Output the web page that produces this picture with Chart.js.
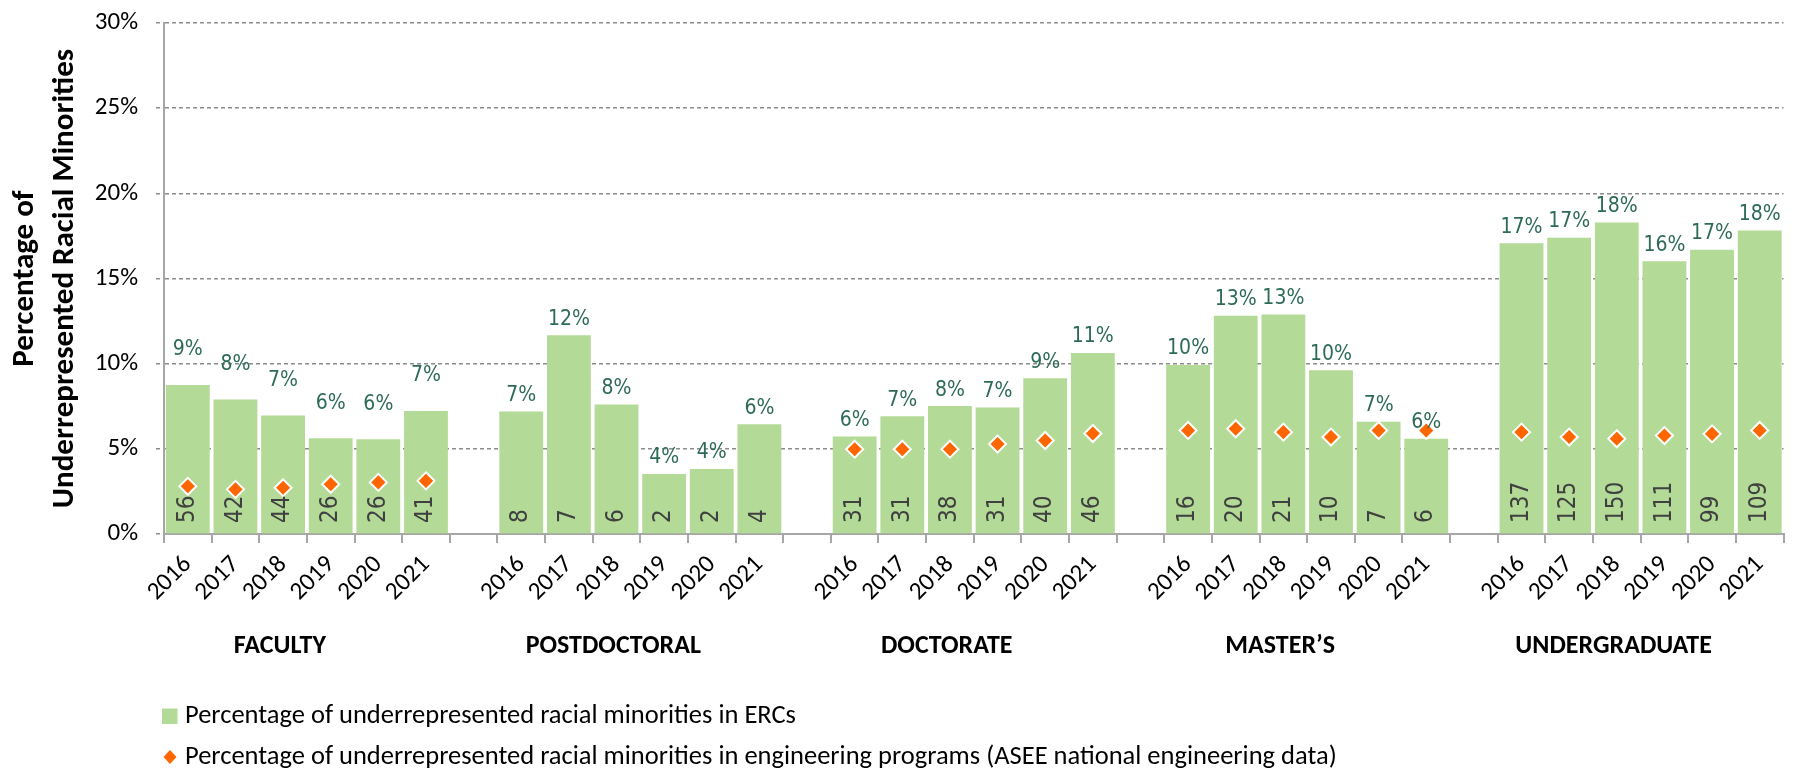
<!DOCTYPE html>
<html><head><meta charset="utf-8">
<script src="https://cdn.jsdelivr.net/npm/chart.js@4.4.1/dist/chart.umd.min.js"></script>
<style>html,body{margin:0;padding:0;background:#fff;}#wrap{position:relative;width:1794px;height:771px;}</style>
</head><body><div id="wrap"><canvas id="c" width="1794" height="771"></canvas></div>
<script>
const years = ['2016', '2017', '2018', '2019', '2020', '2021'];
const groups = ['FACULTY', 'POSTDOCTORAL', 'DOCTORATE', 'MASTER’S', 'UNDERGRADUATE'];
const yTicks = [0, 5, 10, 15, 20, 25, 30];

const ercFaculty = [8.75, 7.90, 6.95, 5.62, 5.56, 7.22];
const ercPostdoc = [7.19, 11.67, 7.61, 3.52, 3.82, 6.45];
const ercDoctorate = [5.73, 6.92, 7.51, 7.43, 9.14, 10.63];
const ercMasters = [9.92, 12.82, 12.88, 9.61, 6.59, 5.59];
const ercUndergrad = [17.07, 17.39, 18.29, 16.02, 16.69, 17.82];

const aseeFaculty = [2.80, 2.62, 2.72, 2.92, 3.03, 3.12];
const aseePostdoc = [null, null, null, null, null, null];
const aseeDoctorate = [4.98, 4.98, 4.98, 5.28, 5.49, 5.90];
const aseeMasters = [6.08, 6.18, 5.98, 5.69, 6.08, 6.08];
const aseeUndergrad = [5.98, 5.69, 5.59, 5.78, 5.88, 6.08];

const countFaculty = [56, 42, 44, 26, 26, 41];
const countPostdoc = [8, 7, 6, 2, 2, 4];
const countDoctorate = [31, 31, 38, 31, 40, 46];
const countMasters = [16, 20, 21, 10, 7, 6];
const countUndergrad = [137, 125, 150, 111, 99, 109];

const legendErc = 'Percentage of underrepresented racial minorities in ERCs';
const legendAsee = 'Percentage of underrepresented racial minorities in engineering programs (ASEE national engineering data)';
const yTitle = ['Percentage of', 'Underrepresented Racial Minorities'];

// ---- build flat arrays with spacer categories between groups ----
const ercGroups = [ercFaculty, ercPostdoc, ercDoctorate, ercMasters, ercUndergrad];
const aseeGroups = [aseeFaculty, aseePostdoc, aseeDoctorate, aseeMasters, aseeUndergrad];
const countGroups = [countFaculty, countPostdoc, countDoctorate, countMasters, countUndergrad];
const labels = [], erc = [], asee = [], counts = [], groupStart = [];
groups.forEach((g, gi) => {
  groupStart.push(labels.length);
  years.forEach((y, i) => {
    labels.push(y); erc.push(ercGroups[gi][i]); asee.push(aseeGroups[gi][i]); counts.push(countGroups[gi][i]);
  });
  if (gi < groups.length - 1) { labels.push(''); erc.push(null); asee.push(null); counts.push(null); }
});

const SANS = 'Carlito, "Open Sans", Lato, sans-serif';
const NARROW = '"Liberation Sans Narrow", "DejaVu Sans Condensed", "Liberation Sans", sans-serif';
Chart.defaults.color = '#000';

const labelPlugin = {
  id: 'customLabels',
  afterDatasetsDraw(chart) {
    const {ctx, chartArea} = chart;
    const meta = chart.getDatasetMeta(1);
    ctx.save();
    meta.data.forEach((bar, i) => {
      const v = erc[i];
      if (v == null) return;
      const gi = groupStart.filter(s => s <= i).length - 1;
      ctx.fillStyle = '#2e6b57';
      ctx.font = '21px ' + NARROW;
      ctx.textAlign = 'center';
      ctx.textBaseline = 'middle';
      ctx.fillText(Math.round(v) + '%', bar.x, bar.y - (gi === 0 ? 35 : 16));
      ctx.save();
      ctx.translate(bar.x, chartArea.bottom - 11);
      ctx.rotate(-Math.PI / 2);
      ctx.textAlign = 'left';
      ctx.fillStyle = '#404040';
      ctx.font = '24px ' + NARROW;
      ctx.fillText(String(counts[i]), 0, 0);
      ctx.restore();
    });
    ctx.restore();
  },
  afterDraw(chart) {
    const {ctx, chartArea, scales: {x}} = chart;
    ctx.save();
    // group labels
    ctx.font = 'bold 26px ' + SANS;
    ctx.fillStyle = '#000';
    ctx.textAlign = 'center';
    ctx.textBaseline = 'middle';
    groups.forEach((g, gi) => {
      const s = groupStart[gi];
      const cx = (x.getPixelForValue(s + 2) + x.getPixelForValue(s + 3)) / 2 - 27;
      ctx.fillText(g, cx, chartArea.bottom + 112);
    });
    // legend
    const lx = chartArea.left;
    const y1 = chartArea.bottom + 182, y2 = chartArea.bottom + 223;
    ctx.fillStyle = '#b3da96';
    ctx.fillRect(lx - 2, y1 - 7.5, 15.5, 15.5);
    ctx.fillStyle = '#ff6600';
    ctx.beginPath();
    ctx.moveTo(lx + 6, y2 - 7); ctx.lineTo(lx + 12.5, y2); ctx.lineTo(lx + 6, y2 + 7); ctx.lineTo(lx - 0.5, y2);
    ctx.closePath(); ctx.fill();
    ctx.font = '26.5px ' + SANS;
    ctx.fillStyle = '#000';
    ctx.textAlign = 'left';
    ctx.fillText(legendErc, lx + 21, y1);
    ctx.fillText(legendAsee, lx + 21, y2);
    ctx.restore();
  }
};

new Chart(document.getElementById('c'), {
  type: 'bar',
  data: {
    labels,
    datasets: [
      {
        type: 'line', label: legendAsee, data: asee, showLine: false,
        pointStyle: 'rectRot', pointRadius: 8.5, pointHoverRadius: 8.5,
        pointBackgroundColor: '#ff6600', pointBorderColor: '#ffffff', pointBorderWidth: 2,
        order: 0
      },
      {
        label: legendErc, data: erc, backgroundColor: '#b3da96',
        barPercentage: 0.92, categoryPercentage: 1, order: 1
      }
    ]
  },
  options: {
    responsive: false, animation: false,
    layout: {padding: {top: 23, right: 0, bottom: 0, left: 0}},
    plugins: {legend: {display: false}, tooltip: {enabled: false}},
    scales: {
      x: {
        offset: true,
        grid: {display: true, drawOnChartArea: false, drawTicks: true, tickLength: 9, color: '#a6a6a6', lineWidth: 2, offset: true},
        border: {color: '#a6a6a6', width: 2},
        ticks: {autoSkip: false, maxRotation: 45, minRotation: 45, padding: 7, color: '#000', font: {family: SANS, size: 25}},
        afterFit(s) { s.height = 237; s.paddingTop = 0; s.paddingBottom = 0; }
      },
      y: {
        min: 0, max: 30,
        afterBuildTicks(s) { s.ticks = yTicks.map(v => ({value: v})); },
        ticks: {callback: v => v + '%', padding: 18, color: '#000', font: {family: SANS, size: 25}},
        grid: {color: '#8c8c8c', lineWidth: 1.5, tickLength: 8, drawTicks: true, tickBorderDash: [4, 3]},
        border: {display: true, color: '#a6a6a6', width: 2, dash: [4, 3]},
        title: {display: true, text: yTitle, color: '#000', font: {family: SANS, size: 31, weight: 'bold', lineHeight: 1.27}, padding: {top: 6, bottom: 0}},
        afterFit(s) { s.width = 164; s.paddingTop = 0; s.paddingBottom = 0; }
      }
    }
  },
  plugins: [labelPlugin]
});
</script>
</body></html>
